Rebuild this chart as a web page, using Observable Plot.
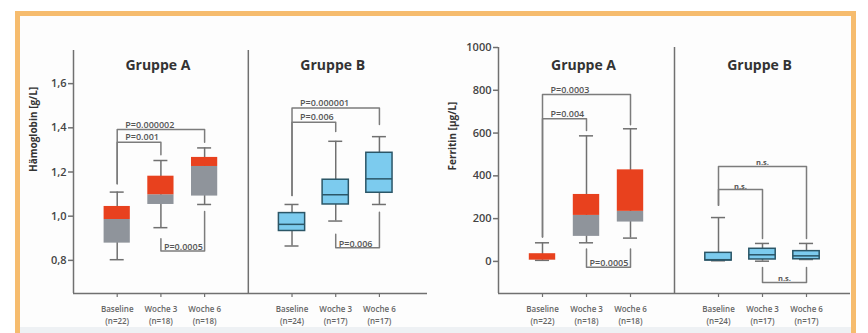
<!DOCTYPE html>
<html>
<head>
<meta charset="utf-8">
<script src="https://cdn.jsdelivr.net/npm/d3@7"></script>
<script src="https://cdn.jsdelivr.net/npm/@observablehq/plot@0.6"></script>
<style>
  html, body { margin: 0; padding: 0; background: #ffffff; }
  #wrap { position: relative; width: 868px; height: 333px; overflow: hidden; font-family: "Open Sans", sans-serif; }
  #frame { position: absolute; left: 15px; top: 11px; width: 841px; height: 340px; box-sizing: border-box;
           border: 5px solid #f6bc6e; border-bottom: none; background: #fdfdfd; }
  #band { position: absolute; left: 20px; top: 327px; width: 831px; height: 6px; background: #eef1f4; }
  .panel { position: absolute; top: 0; }
  #p1 { left: 0; }
  #p2 { left: 435px; }
</style>
</head>
<body>
<div id="wrap">
  <div id="frame"></div>
  <div id="band"></div>
  <div id="p1" class="panel"></div>
  <div id="p2" class="panel"></div>
</div>
<script>
// ---------- categories ----------
const timepoints = ["Baseline", "Woche 3", "Woche 6"];
const groups = ["Gruppe A", "Gruppe B"];
const nGroupA = [22, 18, 18];
const nGroupB = [24, 17, 17];

// ---------- Hämoglobin [g/L] ----------
const hbA_whiskerLow  = [0.803, 0.948, 1.053];
const hbA_q1          = [0.878, 1.053, 1.091];
const hbA_median      = [0.985, 1.097, 1.225];
const hbA_q3          = [1.044, 1.181, 1.266];
const hbA_whiskerHigh = [1.109, 1.252, 1.309];

const hbB_whiskerLow  = [0.865, 0.978, 1.053];
const hbB_q1          = [0.933, 1.053, 1.106];
const hbB_median      = [0.963, 1.097, 1.169];
const hbB_q3          = [1.014, 1.165, 1.287];
const hbB_whiskerHigh = [1.053, 1.339, 1.360];

const hbBracketGroup   = ["Gruppe A", "Gruppe A", "Gruppe A", "Gruppe B", "Gruppe B", "Gruppe B"];
const hbBracketFrom    = ["Baseline", "Baseline", "Woche 3", "Baseline", "Baseline", "Woche 3"];
const hbBracketTo      = ["Woche 6", "Woche 3", "Woche 6", "Woche 6", "Woche 3", "Woche 6"];
const hbBracketLevel   = [1.392, 1.335, 0.842, 1.490, 1.425, 0.857];
const hbBracketFromEnd = [1.147, 1.147, 0.898, 1.094, 1.094, 0.918];
const hbBracketToEnd   = [1.335, 1.278, 1.021, 1.415, 1.383, 1.018];
const hbBracketLabel   = ["P=0.000002", "P=0.001", "P=0.0005", "P=0.000001", "P=0.006", "P=0.006"];

const hbTicks = [0.8, 1.0, 1.2, 1.4, 1.6];

// ---------- Ferritin [µg/L] ----------
const feA_whiskerLow  = [5, 87, 109];
const feA_q1          = [5, 117, 184];
const feA_median      = [6, 215, 234];
const feA_q3          = [36, 313, 428];
const feA_whiskerHigh = [87, 587, 620];

const feB_whiskerLow  = [3, 1, 9];
const feB_q1          = [4, 9, 10];
const feB_median      = [8, 31, 26];
const feB_q3          = [40, 59, 48];
const feB_whiskerHigh = [205, 84, 84];

const feBracketGroup   = ["Gruppe A", "Gruppe A", "Gruppe A", "Gruppe B", "Gruppe B", "Gruppe B"];
const feBracketFrom    = ["Baseline", "Baseline", "Woche 3", "Baseline", "Baseline", "Woche 3"];
const feBracketTo      = ["Woche 6", "Woche 3", "Woche 6", "Woche 6", "Woche 3", "Woche 6"];
const feBracketLevel   = [780, 667, -27, 444, 336, -98];
const feBracketFromEnd = [114, 114, 58, 262, 262, -28];
const feBracketToEnd   = [639, 612, 58, 107, 107, -28];
const feBracketLabel   = ["P=0.0003", "P=0.004", "P=0.0005", "n.s.", "n.s.", "n.s."];

const feTicks = [0, 200, 400, 600, 800, 1000];

// ---------- helpers ----------
const RED = "#e8411e", GRAY = "#8f949b", BLUE = "#7ccbee", BLUE_STROKE = "#2b5667";
const LINE = "#707070", TEXT = "#444";

const pos = (g, t) => groups.indexOf(g) * (timepoints.length + 1) + timepoints.indexOf(t);

function boxRows(group, n, wl, q1, med, q3, wh) {
  return timepoints.map((t, i) => ({group, t, n: n[i], pos: pos(group, t),
    wl: wl[i], q1: q1[i], med: med[i], q3: q3[i], wh: wh[i]}));
}
function bracketRows(g, from, to, level, fromEnd, toEnd, label) {
  return label.map((l, i) => ({id: i, x1: pos(g[i], from[i]), x2: pos(g[i], to[i]),
    level: level[i], e1: fromEnd[i], e2: toEnd[i], label: l, below: level[i] < fromEnd[i]}));
}
function bracketPath(rows) {
  return rows.flatMap(b => [
    {id: b.id, x: b.x1, y: b.e1}, {id: b.id, x: b.x1, y: b.level},
    {id: b.id, x: b.x2, y: b.level}, {id: b.id, x: b.x2, y: b.e2}]);
}

function panel(cfg) {
  const {A, B, brackets, yDomain, yTicks, yFormat, yLabel, width, marginLeft, marginRight, marginTop, xMax, labelDx, titleDy} = cfg;
  const all = A.concat(B);
  const tickLabel = new Map(all.map(d => [d.pos, `${d.t}\n(n=${d.n})`]));
  const pTop = brackets.filter(b => b.label !== "n.s." && !b.below);
  const pBelow = brackets.filter(b => b.label !== "n.s." && b.below);
  const nsLabels = brackets.filter(b => b.label === "n.s.");
  const pStyle = {fontSize: 9, fill: "#555", fontWeight: 600, textAnchor: "start", lineAnchor: "bottom"};
  return Plot.plot({
    width, height: 333, marginLeft, marginRight, marginTop, marginBottom: 40,
    style: {background: "transparent", overflow: "visible", fontFamily: "'Open Sans', sans-serif", fontWeight: 600, color: TEXT},
    x: {type: "linear", domain: [-1, xMax], axis: null},
    y: {domain: yDomain, axis: null},
    marks: [
      Plot.ruleX([-1], {stroke: LINE, strokeWidth: 1.5}),
      Plot.ruleX([timepoints.length], {stroke: LINE, strokeWidth: 1.5}),
      Plot.ruleY([yDomain[0]], {stroke: LINE, strokeWidth: 1.5}),
      Plot.axisY({ticks: yTicks, tickFormat: yFormat, tickSize: 5, tickPadding: 2, fontSize: 11,
        label: null, stroke: LINE, strokeWidth: 1.5, fill: TEXT, fontWeight: 600}),
      Plot.axisX({ticks: all.map(d => d.pos), tickFormat: p => tickLabel.get(p), tickSize: 4, tickPadding: 6,
        fontSize: 8, lineHeight: 1.5, label: null, stroke: LINE, strokeWidth: 1.2, fill: "#666", fontWeight: 600}),
      // brackets
      Plot.line(bracketPath(brackets), {x: "x", y: "y", z: "id", stroke: "#7c7c7c", strokeWidth: 1.5, curve: "linear"}),
      Plot.text(pTop, {x: "x1", y: "level", text: "label", dx: 8, dy: -2, ...pStyle}),
      Plot.text(pBelow, {x: "x1", y: "level", text: "label", dx: 3, dy: -1, ...pStyle}),
      Plot.text(nsLabels, {x: d => (d.x1 + d.x2) / 2, y: "level", text: "label", textAnchor: "middle",
        lineAnchor: "bottom", dy: -1, fontSize: 7.5, fill: "#555", fontWeight: 700}),
      // whiskers
      Plot.ruleX(all, {x: "pos", y1: "wl", y2: "wh", stroke: LINE, strokeWidth: 1.5}),
      Plot.ruleY(all, {y: "wh", x1: d => d.pos - 0.16, x2: d => d.pos + 0.16, stroke: LINE, strokeWidth: 1.5}),
      Plot.ruleY(all, {y: "wl", x1: d => d.pos - 0.16, x2: d => d.pos + 0.16, stroke: LINE, strokeWidth: 1.5}),
      // Gruppe A boxes: red upper part, gray lower part
      Plot.rectY(A, {x1: d => d.pos - 0.3, x2: d => d.pos + 0.3, y1: "q1", y2: "med", fill: GRAY}),
      Plot.rectY(A, {x1: d => d.pos - 0.3, x2: d => d.pos + 0.3, y1: "med", y2: "q3", fill: RED}),
      // Gruppe B boxes: blue with outline and median
      Plot.rectY(B, {x1: d => d.pos - 0.3, x2: d => d.pos + 0.3, y1: "q1", y2: "q3", fill: BLUE, stroke: BLUE_STROKE, strokeWidth: 1.5}),
      Plot.ruleY(B, {y: "med", x1: d => d.pos - 0.3, x2: d => d.pos + 0.3, stroke: BLUE_STROKE, strokeWidth: 1.5}),
      // titles
      Plot.text(groups, {x: g => pos(g, timepoints[1]), frameAnchor: "top", dy: titleDy, dx: -3, text: d => d,
        fontSize: 14, fontWeight: 700, fill: "#333"}),
      // y label
      Plot.text([yLabel], {frameAnchor: "left", dx: labelDx, rotate: -90, text: d => d, fontSize: 10, fontWeight: 700, fill: "#333"})
    ]
  });
}

const hbBrackets = bracketRows(hbBracketGroup, hbBracketFrom, hbBracketTo, hbBracketLevel, hbBracketFromEnd, hbBracketToEnd, hbBracketLabel);
const feBrackets = bracketRows(feBracketGroup, feBracketFrom, feBracketTo, feBracketLevel, feBracketFromEnd, feBracketToEnd, feBracketLabel);

const hbPlot = panel({
  A: boxRows("Gruppe A", nGroupA, hbA_whiskerLow, hbA_q1, hbA_median, hbA_q3, hbA_whiskerHigh),
  B: boxRows("Gruppe B", nGroupB, hbB_whiskerLow, hbB_q1, hbB_median, hbB_q3, hbB_whiskerHigh),
  brackets: hbBrackets,
  yDomain: [0.65, 1.75], yTicks: hbTicks, yFormat: d => d.toFixed(1).replace(".", ","),
  yLabel: "Hämoglobin [g/L]",
  width: 435, marginLeft: 73, marginRight: 8, marginTop: 50, xMax: 7.1, labelDx: -40, titleDy: 10
});
const fePlot = panel({
  A: boxRows("Gruppe A", nGroupA, feA_whiskerLow, feA_q1, feA_median, feA_q3, feA_whiskerHigh),
  B: boxRows("Gruppe B", nGroupB, feB_whiskerLow, feB_q1, feB_median, feB_q3, feB_whiskerHigh),
  brackets: feBrackets,
  yDomain: [-150, 1000], yTicks: feTicks, yFormat: d => String(d),
  yLabel: "Ferritin [µg/L]",
  width: 433, marginLeft: 63, marginRight: 18, marginTop: 47, xMax: 7, labelDx: -46, titleDy: 13
});
document.getElementById("p1").appendChild(hbPlot);
document.getElementById("p2").appendChild(fePlot);
</script>
</body>
</html>
